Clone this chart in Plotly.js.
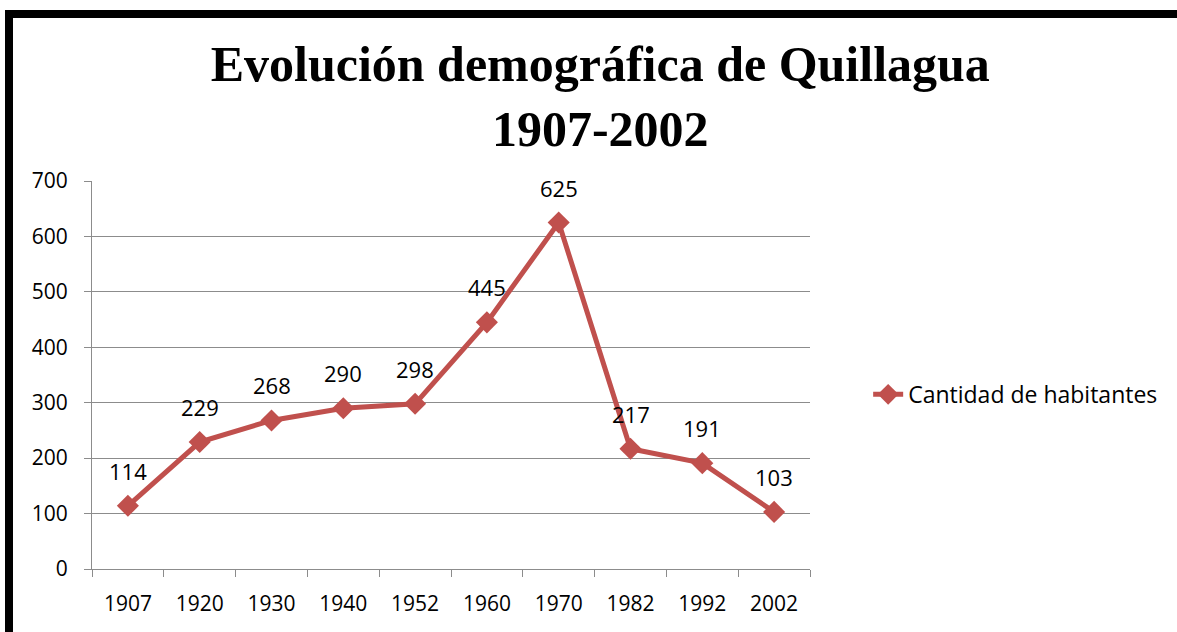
<!DOCTYPE html>
<html>
<head>
<meta charset="utf-8">
<script src="https://cdn.plot.ly/plotly-3.0.1.min.js"></script>
<style>
  body { margin: 0; background: #fff; }
  #plot { width: 1177px; height: 632px; }
  #frame {
    position: absolute; left: 5px; top: 10px; width: 1300px; height: 700px;
    border-top: 8px solid #000; border-left: 8px solid #000;
    pointer-events: none;
  }
</style>
</head>
<body>
<div id="plot"></div>
<div id="frame"></div>
<script>
// Censos de Quillagua
const years = ['1907', '1920', '1930', '1940', '1952', '1960', '1970', '1982', '1992', '2002'];
const habitantes = [114, 229, 268, 290, 298, 445, 625, 217, 191, 103];
const yTicks = [0, 100, 200, 300, 400, 500, 600, 700];

const sans = 'Open Sans, sans-serif';

const trace = {
  x: years,
  y: habitantes,
  type: 'scatter',
  mode: 'lines+markers',
  name: 'Cantidad de habitantes',
  line: { color: '#C0504D', width: 5 },
  marker: { symbol: 'diamond', size: 17, color: '#C0504D' },
  cliponaxis: false
};

// etiquetas de datos encima de cada punto (x = indice de categoria)
const labels = habitantes.map((v, i) => ({
  x: i,
  y: v,
  xref: 'x', yref: 'y',
  text: String(v),
  showarrow: false,
  yshift: 35,
  font: { family: sans, size: 22, color: '#000' }
}));

const layout = {
  width: 1177,
  height: 632,
  title: {
    text: 'Evolución demográfica de Quillagua<br>1907-2002',
    font: { family: 'Liberation Serif, serif', size: 50, color: '#000', weight: 'bold' },
    x: 0.51, xanchor: 'center',
    y: 0.872, yanchor: 'top'
  },
  margin: { l: 92, r: 367, t: 181, b: 63 },
  paper_bgcolor: '#fff',
  plot_bgcolor: '#fff',
  showlegend: true,
  legend: {
    x: 1.081, y: 0.45, xanchor: 'left', yanchor: 'middle',
    font: { family: sans, size: 23, color: '#000' }
  },
  annotations: labels,
  xaxis: {
    type: 'category',
    range: [-0.5, 9.5],
    tickson: 'boundaries',
    ticks: 'outside',
    ticklen: 7,
    tickcolor: '#8c8c8c',
    showgrid: false,
    showline: true,
    linecolor: '#8c8c8c',
    linewidth: 1,
    tickfont: { family: sans, size: 21, color: '#000' },
    ticklabelstandoff: 16,
    fixedrange: true
  },
  yaxis: {
    range: [0, 700],
    tickvals: yTicks,
    ticks: 'outside',
    ticklen: 7,
    tickcolor: '#8c8c8c',
    showgrid: true,
    gridcolor: '#8c8c8c',
    gridwidth: 1,
    showline: true,
    linecolor: '#8c8c8c',
    zeroline: false,
    tickfont: { family: sans, size: 21, color: '#000' },
    ticklabelstandoff: 12,
    fixedrange: true
  }
};

Plotly.newPlot('plot', [trace], layout, { displayModeBar: false, staticPlot: true });
</script>
</body>
</html>
